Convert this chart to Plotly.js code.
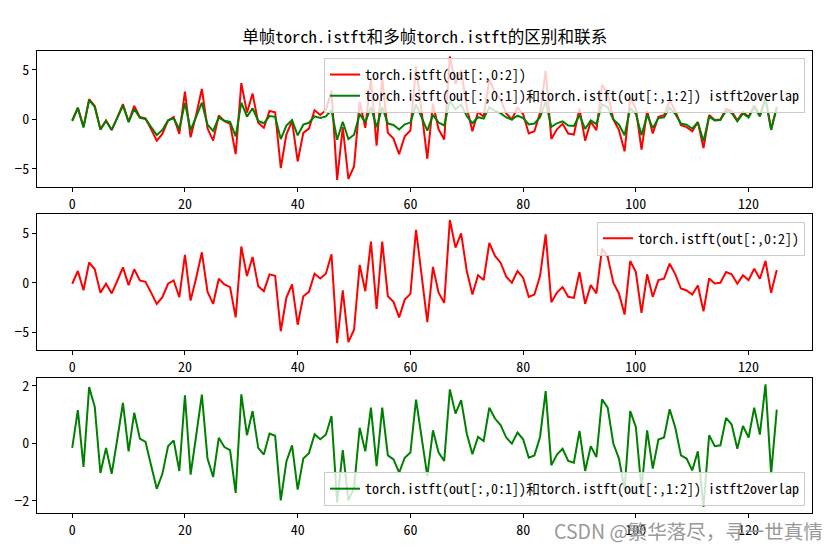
<!DOCTYPE html>
<html>
<head>
<meta charset="utf-8">
<script src="https://cdn.plot.ly/plotly-3.0.1.min.js"></script>
<style>
  html, body { margin: 0; padding: 0; background: #fff; }
  #myDiv { width: 840px; height: 551px; }
</style>
</head>
<body>
<div id="myDiv"></div>
<script>
// torch.istft(out[:,0:2]) -- single frame result
const redVals = [
  -0.1, 1.19, -0.75, 2.05, 1.36, -1.0, -0.1, -1.08, 0.2, 1.55,
  -0.24, 1.36, 0.24, 0.1, -1.0, -2.14, -1.46, -0.1, 0.24, -1.46,
  2.81, -1.8, 0.5, 3.08, -0.9, -2.14, 0.4, -0.17, -0.44, -3.5,
  3.66, 0.68, 2.6, -0.34, -0.85, 0.85, 0.71, -4.9, -1.5, -0.17,
  -4.24, -1.36, -0.92, 0.92, 0.44, 0.92, 2.88, -6.1, -0.78, -6.0,
  -4.75, 1.8, -0.85, 4.17, -2.64, 4.17, -1.36, -1.93, -3.5, -1.7,
  -1.12, 5.36, 0.7, -3.97, 1.6, -1.0, -2.03, 6.35, 3.56, 5.0,
  1.19, -1.19, 0.75, 0.27, 4.03, 2.71, 2.03, 0.61, 0.0, 1.19,
  0.51, -1.42, -1.19, 0.68, 4.9, -1.97, -1.0, -0.44, -1.42, -1.53,
  1.08, -2.14, -0.24, -1.08, 3.46, 2.64, 0.0, -1.08, -3.22, 2.2,
  1.08, -3.05, 0.85, -1.42, 0.27, 0.41, 1.93, 0.85, -0.58, -0.78,
  -1.19, -0.27, -2.88, 0.44, -0.07, 0.0, 1.08, 0.85, -0.1, 0.75,
  0.27, 1.42, 0.41, 2.2, -1.02, 1.29
];

// torch.istft(out[:,0:1]) + torch.istft(out[:,1:2]) overlapped
const greenVals = [
  -0.16, 1.15, -0.82, 1.95, 1.26, -1.03, -0.16, -1.06, 0.15, 1.4,
  -0.28, 1.06, 0.16, 0.05, -0.77, -1.58, -1.06, -0.1, 0.1, -0.96,
  1.67, -1.09, 0.28, 1.69, -0.53, -1.17, 0.19, -0.13, -0.24, -1.72,
  1.70, 0.28, 1.12, -0.16, -0.39, 0.34, 0.26, -1.98, -0.63, -0.07,
  -1.61, -0.53, -0.34, 0.31, 0.14, 0.30, 0.95, -2.05, -0.24, -1.98,
  -1.55, 0.54, -0.28, 1.24, -0.79, 1.24, -0.42, -0.56, -1.02, -0.50,
  -0.32, 1.52, 0.19, -1.14, 0.45, -0.32, -0.61, 1.87, 1.03, 1.50,
  0.34, -0.38, 0.22, 0.08, 1.24, 0.86, 0.63, 0.20, -0.01, 0.37,
  0.14, -0.50, -0.42, 0.22, 1.81, -0.76, -0.39, -0.19, -0.61, -0.67,
  0.43, -0.96, -0.10, -0.48, 1.53, 1.24, -0.01, -0.53, -1.6, 1.12,
  0.57, -1.6, 0.45, -0.88, 0.13, 0.20, 1.18, 0.54, -0.42, -0.53,
  -0.94, -0.28, -2.21, 0.28, -0.10, -0.07, 0.88, 0.65, -0.19, 0.60,
  0.20, 1.24, 0.30, 2.05, -1.06, 1.17
];

const sampleIdx = redVals.map((_, i) => i);

const titleText = '单帧torch.istft和多帧torch.istft的区别和联系';
const redName = 'torch.istft(out[:,0:2])';
const greenName = 'torch.istft(out[:,0:1])和torch.istft(out[:,1:2]) istft2overlap';
const watermark = 'CSDN @繁华落尽，寻一世真情';

const xTicks = [0, 20, 40, 60, 80, 100, 120];
const yTicksBig = [-5, 0, 5];
const yTicksSmall = [-2, 0, 2];

const FONT = "'Noto Sans Mono CJK SC', 'Noto Sans CJK SC', 'DejaVu Sans', sans-serif";
const RED = '#ff0000';
const GREEN = '#008000';

function line(x, y, color, name, xa, ya, legend) {
  return {
    x: x, y: y, type: 'scatter', mode: 'lines', name: name,
    xaxis: xa, yaxis: ya, legend: legend,
    line: { color: color, width: 2 }
  };
}

const traces = [
  line(sampleIdx, redVals, RED, redName, 'x', 'y', 'legend'),
  line(sampleIdx, greenVals, GREEN, greenName, 'x', 'y', 'legend'),
  line(sampleIdx, redVals, RED, redName, 'x2', 'y2', 'legend2'),
  line(sampleIdx, greenVals, GREEN, greenName, 'x3', 'y3', 'legend3')
];

function xax(anchor) {
  return {
    anchor: anchor, domain: [0, 1], range: [-6.25, 131.25],
    tickmode: 'array', tickvals: xTicks,
    showgrid: false, zeroline: false,
    showline: true, mirror: true, linecolor: '#000', linewidth: 1,
    ticks: 'outside', ticklen: 4, tickcolor: '#000', tickwidth: 1,
    tickfont: { size: 14, color: '#000', family: FONT }
  };
}
function yax(anchor, dom, rng, ticks) {
  return {
    anchor: anchor, domain: dom, range: rng,
    tickmode: 'array', tickvals: ticks,
    showgrid: false, zeroline: false,
    showline: true, mirror: true, linecolor: '#000', linewidth: 1,
    ticks: 'outside', ticklen: 4, tickcolor: '#000', tickwidth: 1,
    tickfont: { size: 14, color: '#000', family: FONT }
  };
}
function leg(x, y, yanchor) {
  return {
    x: x, y: y, xanchor: 'right', yanchor: yanchor, xref: 'paper', yref: 'paper',
    bgcolor: 'rgba(255,255,255,0.8)', bordercolor: '#cccccc', borderwidth: 1,
    font: { size: 14, color: '#000', family: FONT },
    tracegroupgap: 0, itemwidth: 30
  };
}

const layout = {
  width: 840, height: 551,
  paper_bgcolor: '#fff', plot_bgcolor: '#fff',
  margin: { l: 37, r: 28, t: 51, b: 38 },
  font: { family: FONT, color: '#000' },
  title: {
    text: titleText, x: 0.5056, xanchor: 'center', xref: 'container',
    y: 0.933, yref: 'container', yanchor: 'middle',
    font: { size: 16.6, color: '#000', family: FONT }
  },
  showlegend: true,
  xaxis: xax('y'),
  yaxis: yax('x', [0.706, 1], [-6.8, 6.9], yTicksBig),
  xaxis2: xax('y2'),
  yaxis2: yax('x2', [0.353, 0.6465], [-6.79, 6.92], yTicksBig),
  xaxis3: xax('y3'),
  yaxis3: yax('x3', [0, 0.293], [-2.42, 2.28], yTicksSmall),
  legend: leg(0.991, 0.985, 'top'),
  legend2: leg(0.991, 0.6305, 'top'),
  legend3: leg(0.991, 0.015, 'bottom'),
  annotations: [{
    text: watermark, xref: 'paper', yref: 'paper',
    x: 1.0168, y: -0.0368, xanchor: 'right', yanchor: 'middle',
    showarrow: false,
    font: { size: 19.5, color: '#999999', family: "'Noto Sans CJK SC', sans-serif" }
  }]
};

Plotly.newPlot('myDiv', traces, layout, { staticPlot: true, displayModeBar: false });
</script>
</body>
</html>
